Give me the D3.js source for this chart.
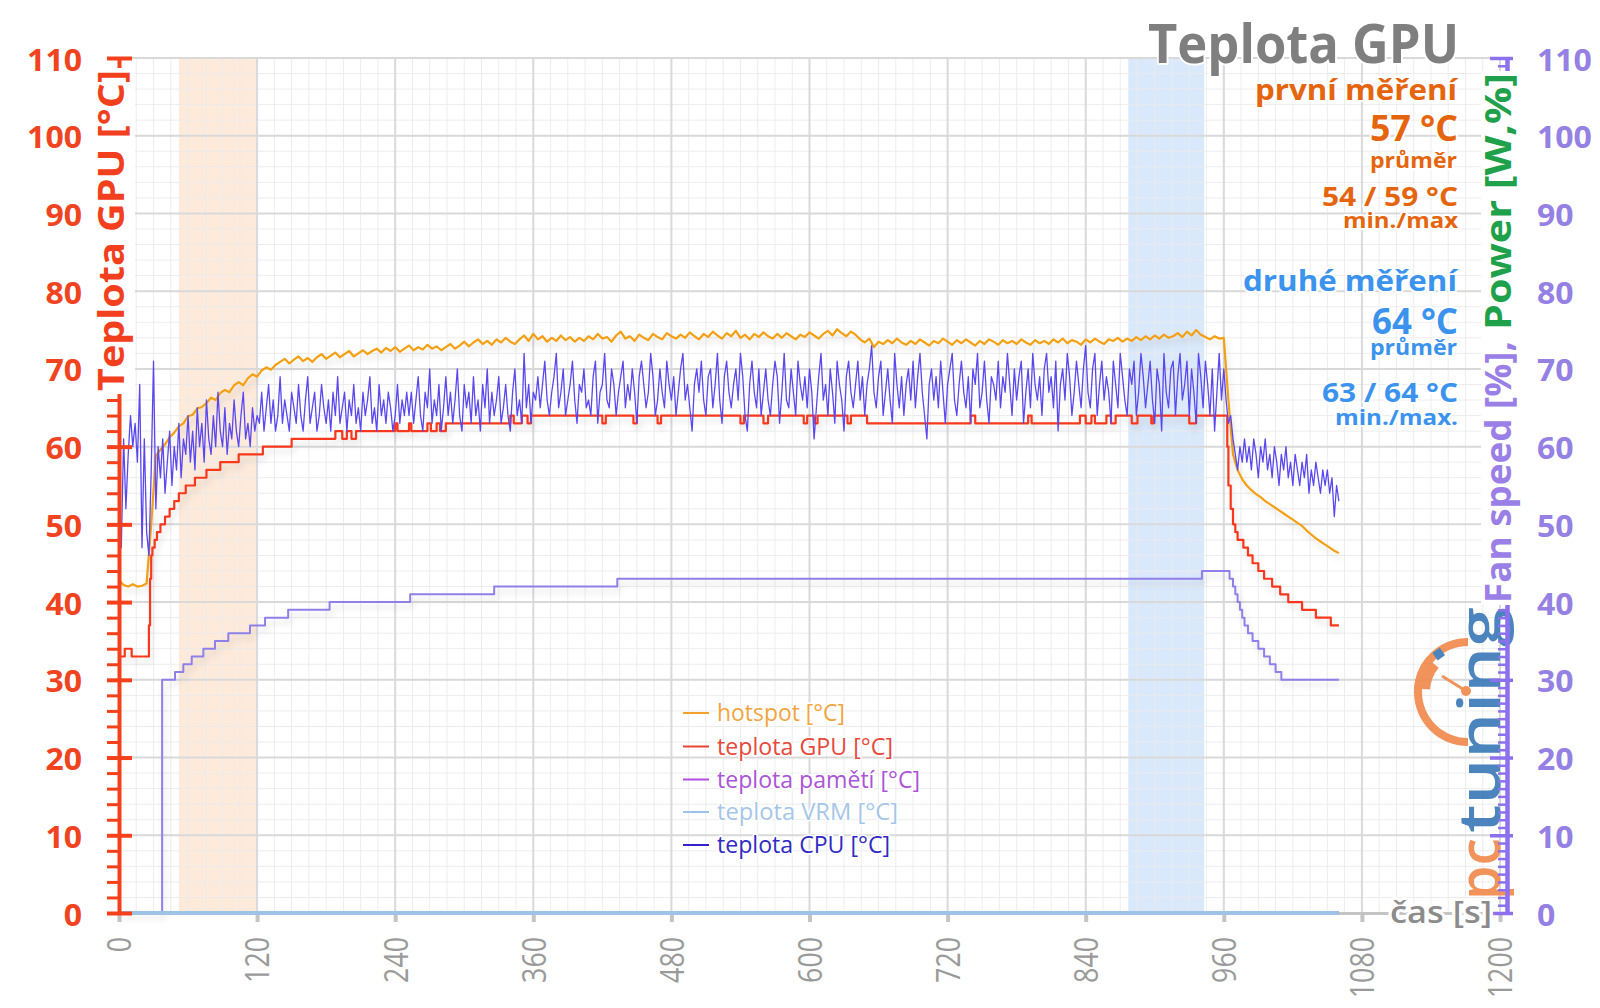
<!DOCTYPE html>
<html><head><meta charset="utf-8">
<script src="https://cdn.jsdelivr.net/npm/d3@7"></script>
<style>
body{margin:0;background:#fff;}
svg{display:block;font-family:"Open Sans",sans-serif;}
</style></head><body>
<svg id="chart" width="1600" height="1008"></svg>
<script>
// ---------------- DATA ----------------
const xTickValues = [0,120,240,360,480,600,720,840,960,1080,1200];
const yTickValues = [0,10,20,30,40,50,60,70,80,90,100,110];
const firstBand = [52,120];    // první měření
const secondBand = [877,943];  // druhé měření

// hotspot [°C], sampled every 4 s
const hotStep = 4;
const hotspotA_start = 0;
const hotspotA = [42.8,42.2,42.0,42.3,42.0,42.1,42.4,50.0,58.8,59.6,60.3,61.2,61.8,62.6,63.0,63.9,64.1,64.9,65.1,65.6,66.3,66.0,66.9,67.3,67.0,67.9,68.3,67.9,68.8,69.3,69.0,
 69.8,70.2,69.9,70.5,70.9,71.3,70.7,71.2,71.6,71.0,71.4,70.9,71.5,71.9,71.3,71.7,72.1,71.5,71.9,72.3,
 71.6,72.0,72.4,71.9,72.3,72.6,72.1,72.7,72.3,72.8,72.2,72.6,73.0,72.4,72.8,72.5,73.1,72.6,72.9,72.4,
 72.8,73.2,72.6,73.0,73.5,72.9,73.4,73.8,73.2,73.6,73.1,73.8,73.4,74.0,73.5,73.2,73.8,74.3,73.6,74.5,
 73.8,74.2,73.5,74.0,73.6,74.3,73.7,74.1,73.5,74.0];
const hotspotB_start = 404;
const hotspotB = [73.6,74.2,73.8,74.5,73.9,74.1,73.5,74.3,74.8,73.9,74.2,73.6,74.4,74.0,73.7,74.5,74.1,73.8,74.6,74.2,
 73.9,74.4,74.0,74.7,74.2,73.8,74.5,74.1,74.8,74.3,73.9,74.6,74.2,74.9,74.0,74.4,73.8,74.5,74.1,74.7,
 74.2,73.9,74.5,74.0,74.6,74.2,73.8,74.4,74.1,74.7,74.3,73.9,74.5,74.9,74.3,75.1,74.6,74.2,74.8,74.4,
 73.8,73.4,73.9,72.8,73.5,73.2,73.7,73.3,73.9,73.4,73.1,73.6,73.2,73.8,73.4,73.0,73.6,73.3,73.9,73.5,
 73.1,73.7,73.3,73.8,73.4,73.0,73.6,73.2,73.8,73.5,73.1,73.7,73.3,73.6,73.2,73.8,73.4,73.1,73.7,73.3,
 73.6,73.2,73.8,73.4,73.9,73.3,73.7,73.5,73.1,73.8,73.4,73.9,73.5,73.2,73.8,73.6,74.0,73.5,73.9,73.6,
 74.1,73.7,74.2,73.8,74.3,73.9,74.4,74.0,74.2,74.6,74.1,74.8,74.3,75.0,74.4,74.1,73.8,74.2,73.9,74.0];
const hotspotC_start = 964;
const hotspotC = [66.0,59.0,57.0,55.8,55.0,54.4,53.9,53.5,53.0,52.6,52.2,51.8,51.4,51.0,50.6,50.2,49.8,49.2,48.7,48.2,47.8,47.4,47.0,46.6,46.3];

// teplota GPU [°C], step changes [time s, value]
const gpuSteps = [[0,33],[5,34],[11,33],[26,37],[27,43],[28,46],[29,47],[31,48],[33,49],[36,50],[40,51],[44,52],[48,53],[52,54],[58,55],[66,56],[76,57],[88,58],[104,59],[125,60],[150,61],
 [188,62],[194,61],[198,62],[202,61],[206,62],[240,63],[242,62],[252,63],[254,62],[268,63],[271,62],[276,63],[279,62],[284,63],[340,64],[343,63],[350,64],[355,63],[358,64],
 [420,63],[423,64],[447,63],[450,64],[468,63],[471,64],[540,63],[543,64],[560,63],[564,64],[595,63],[598,64],[604,63],[607,64],[633,63],[636,64],[650,63],
 [740,64],[744,63],[790,64],[793,63],[835,64],[840,63],[845,64],[848,63],[858,64],[862,63],[866,64],[880,63],[885,64],[897,63],[899,64],[930,63],[936,64],
 [963,60],[964,55],[966,52],[968,50],[970,49],[972,48],[977,47],[981,46],[985,45],[990,44],[995,43],[1002,42],[1009,41],[1016,40],[1028,39],[1040,38],[1053,37],[1060,37]];

// teplota pamětí / VRM [°C] (flat at zero)
const memSteps = [[0,0],[1060,0]];
const vrmSteps = [[0,0],[1060,0]];

// teplota CPU [°C], sampled every 2 s
const cpuStep = 2;
const cpuA_start = 0;
const cpuA = [56,47,61,52,59,64,60,63,58,68,47,61,49,46,57,71,
 52,60,56,61,54,58,62,55,60,57,63,56,61,59,64,
 58,62,57,65,60,63,58,66,61,59,64,60,67,62,60,65,59,63,61,66,62,60,64,67,61,63,60,65,62,64,
 63,67,62,65,68,63,66,62,64,69,63,66,64,62,67,65,63,68,64,62,66,69,63,65,67,62,64,68,65,63,
 66,62,67,64,69,63,65,67,62,66,64,68,63,65,62,67,64,66,69,63,65,62,68,64,66,63,67,65,62,64,68,63,66,64,67,
 64,67,63,66,69,64,62,67,65,70,63,66,64,68,62,65,69,64,67,63,66,70,64,62,68,65,67,63,69,64,
 66,62,68,65,70,63,67,64,66,69,63,65,68,64,62,67,70,64,66,63,72,65,68,63,67];
const cpuB_start = 362;
const cpuB = [66,69,65,68,71,66,64,67,69,72,65,67,70,64,66,68,71,66,63,68,
 67,70,65,66,64,69,71,63,67,68,72,66,65,70,68,64,67,69,71,65,
 68,66,70,67,63,69,71,68,65,67,72,69,64,66,70,67,65,71,68,66,
 69,64,67,70,72,66,68,65,62,68,70,67,71,66,64,69,70,65,68,72,
 66,63,69,71,67,65,68,70,66,72,69,64,62,68,71,67,65,70,64,67,
 70,66,64,68,71,69,63,67,72,66,65,70,67,64,71,68,66,69,65,70,
 67,61,65,69,72,66,68,64,70,67,63,71,68,66,62,69,71,67,65,68,
 71,66,69,64,68,70,73,67,65,69,71,64,67,70,66,63,72,68,65,69,
 64,68,70,66,71,65,69,72,67,64,61,68,70,66,69,65,71,67,63,68,
 70,72,66,64,68,71,67,65,69,63,70,68,72,65,67,71,66,63,69,68,
 66,71,65,69,67,72,68,64,70,66,69,71,63,67,70,65,72,68,66,69,
 64,70,72,67,69,65,71,62,68,70,66,72,69,64,67,71,68,65,70,73,
 67,65,70,72,64,68,71,66,69,67,63,71,68,65,72,69,66,64,70,68,
 71,64,67,72,69,65,68,71,66,63,70,68,62,72,67,65,70,71,64,69,
 72,66,68,71,64,70,67,63,72,69,65,71,68,64,70,62,67,72,66,70];
const cpuC_start = 962;
const cpuC = [66,63,64,61,59,57,60,58,61,58,60,57,61,59,56,60,58,61,57,59,56,60,58,55,59,57,60,56,58,55,59,57,55,58,56,59,54,57,55,58,56,54,57,55,57,54,56,51,55,53];

// Fan speed [%] (secondary axis), step changes [time s, value]
const fanSteps = [[0,0],[37.5,30],[48.7,31],[55.9,32],[63.2,33],[73.3,34],[83.4,35],[95,36],[113.8,37],[126.9,38],[147,39],[183,40],[253,41],[326,42],[433,43],[941,44],[965,43],[968,42],[970,41],[972,40],[974,39],[976,38],[978,37],[981,36],[985,35],[990,34],[995,33],[1000,32],[1005,31],[1010,30],[1060,30]];

const legendNames = ["hotspot [°C]","teplota GPU [°C]","teplota pamětí [°C]","teplota VRM [°C]","teplota CPU [°C]"];
const legendLineColors = ["#f3a12a","#e8472f","#b24fe0","#9dc3e6","#3422cc"];
const legendTextColors = ["#f1a540","#e64a3c","#ab55d8","#a5c6e8","#2f2bc2"];

// ---------------- CHART ----------------
const svg = d3.select("#chart");
const x = d3.scaleLinear().domain([0,1200]).range([119,1500]);
const y = d3.scaleLinear().domain([0,110]).range([913,58]);
const y2 = d3.scaleLinear().domain([0,110]).range([913,58]);
const fmt = d3.format("d");

const defs = svg.append("defs");
const f = defs.append("filter").attr("id","sh").attr("x","-5%").attr("y","-10%").attr("width","115%").attr("height","130%");
f.append("feDropShadow").attr("dx",2).attr("dy",5).attr("stdDeviation",3).attr("flood-color","#000").attr("flood-opacity",0.13);

// bands
[[firstBand,"#fdeadb"],[secondBand,"#dae8fb"]].forEach(([b,c])=>{
  svg.append("rect").attr("x",x(b[0])).attr("y",y(110)).attr("width",x(b[1])-x(b[0])).attr("height",y(0)-y(110)).attr("fill",c);
});

// grid
const grid = svg.append("g");
grid.selectAll(".vm").data(d3.range(0,1201,15)).join("line")
  .attr("x1",d=>x(d)).attr("x2",d=>x(d)).attr("y1",y(110)).attr("y2",y(0))
  .attr("stroke","#ebebeb").attr("stroke-width",1).attr("opacity",0.9);
grid.selectAll(".hm").data(d3.range(0,111,2)).join("line")
  .attr("x1",x(0)).attr("x2",x(1200)).attr("y1",d=>y(d)).attr("y2",d=>y(d))
  .attr("stroke","#ebebeb").attr("stroke-width",1).attr("opacity",0.9);
grid.selectAll(".vM").data(xTickValues).join("line")
  .attr("x1",d=>x(d)).attr("x2",d=>x(d)).attr("y1",y(110)).attr("y2",y(0))
  .attr("stroke","#d9d9de").attr("stroke-width",2);
grid.selectAll(".hM").data(yTickValues).join("line")
  .attr("x1",x(0)).attr("x2",x(1200)).attr("y1",d=>y(d)).attr("y2",d=>y(d))
  .attr("stroke","#d9d9d9").attr("stroke-width",2);

// x axis
const gx = svg.append("g").attr("transform",`translate(0,${y(0)})`)
  .call(d3.axisBottom(x).tickValues(xTickValues).tickFormat(fmt).tickSize(9).tickSizeOuter(0));
gx.select(".domain").attr("stroke","#c4c4c4").attr("stroke-width",3);
gx.selectAll(".tick line").attr("stroke","#c4c4c4").attr("stroke-width",4);
gx.selectAll(".tick text")
  .attr("transform","rotate(-90)").attr("x",-24).attr("y",0).attr("dy","0.36em")
  .attr("text-anchor","end").attr("fill","#9a9a9a").attr("font-size",33)
  .attr("font-family","Open Sans").attr("font-weight",400)
  .attr("textLength",d=>fmt(d).length*15.3).attr("lengthAdjust","spacingAndGlyphs");

// series helpers
const lineLin = d3.line().x(d=>x(d[0])).y(d=>y(d[1]));
const lineStep = d3.line().x(d=>x(d[0])).y(d=>y(d[1])).curve(d3.curveStepAfter);
const lineStep2 = d3.line().x(d=>x(d[0])).y(d=>y2(d[1])).curve(d3.curveStepAfter);
const sampled = (arr,start,step)=>arr.map((v,i)=>[start+i*step,v]);

const hotspot = [...sampled(hotspotA,hotspotA_start,hotStep),...sampled(hotspotB,hotspotB_start,hotStep),...sampled(hotspotC,hotspotC_start,hotStep)];
const cpu = [...sampled(cpuA,cpuA_start,cpuStep),...sampled(cpuB,cpuB_start,cpuStep),...sampled(cpuC,cpuC_start,cpuStep)];

const series = svg.append("g").attr("fill","none").attr("stroke-linejoin","round");
series.append("path").attr("d",lineStep2(fanSteps)).attr("stroke","#8e80e8").attr("stroke-width",2).attr("filter","url(#sh)");
series.append("path").attr("d",lineLin(hotspot)).attr("stroke","#f3a014").attr("stroke-width",2.2).attr("filter","url(#sh)");
series.append("path").attr("d",lineStep(gpuSteps)).attr("stroke","#f8381c").attr("stroke-width",2.2).attr("filter","url(#sh)");
series.append("path").attr("d",lineStep(memSteps)).attr("stroke","#c050e0").attr("stroke-width",4);
series.append("path").attr("d",lineStep(vrmSteps)).attr("stroke","#9dc3e6").attr("stroke-width",4);
series.append("path").attr("d",lineLin(cpu)).attr("stroke","#5a48ee").attr("stroke-width",1.3);

// logo (pctuning watermark)
const logo = svg.append("g").attr("opacity",0.92);
const lc = [1468,692];
logo.append("path").attr("transform",`translate(${lc})`)
  .attr("d",d3.arc().innerRadius(46).outerRadius(54).startAngle(Math.PI).endAngle(2*Math.PI)())
  .attr("fill","#f08a4e");
logo.append("path").attr("transform",`translate(${lc})`)
  .attr("d",d3.arc().innerRadius(38).outerRadius(54).startAngle(1.52*Math.PI).endAngle(1.72*Math.PI)())
  .attr("fill","#f08a4e");
logo.append("rect").attr("x",1434).attr("y",650).attr("width",9).attr("height",9).attr("fill","#3d7ab8").attr("transform","rotate(-35,1438,654)");
logo.append("line").attr("x1",1442).attr("y1",676).attr("x2",lc[0]-2).attr("y2",lc[1]-1).attr("stroke","#f08a4e").attr("stroke-width",3);
logo.append("circle").attr("cx",lc[0]-2).attr("cy",lc[1]-1).attr("r",5).attr("fill","#f08a4e");
logo.append("text").text("tuning").attr("transform","translate(1500,833) rotate(-90)")
  .attr("font-size",58).attr("font-weight",600).attr("fill","#3d7ab8")
  .attr("textLength",226).attr("lengthAdjust","spacingAndGlyphs");
logo.append("text").text("pc").attr("transform","translate(1500,900) rotate(-90)")
  .attr("font-size",58).attr("font-weight",600).attr("fill","#f08a4e")
  .attr("textLength",62).attr("lengthAdjust","spacingAndGlyphs");

// left axis
const red = "#f5401c";
const gl = svg.append("g").attr("transform",`translate(${x(0)},0)`);
gl.append("g").call(d3.axisLeft(y).tickValues(d3.range(0,111,2).filter(v=>v%10)).tickSize(12).tickSizeOuter(0).tickFormat(""))
  .call(g=>{g.select(".domain").remove();g.selectAll("line").attr("stroke",red).attr("stroke-width",3);});
gl.append("g").call(d3.axisRight(y).tickValues(yTickValues).tickSize(13).tickSizeOuter(0).tickFormat(""))
  .call(g=>{g.select(".domain").remove();g.selectAll("line").attr("stroke",red).attr("stroke-width",4);});
gl.append("g").call(d3.axisLeft(y).tickValues(yTickValues).tickFormat(fmt).tickSize(12).tickPadding(25).tickSizeOuter(0))
  .call(g=>{
    g.select(".domain").attr("stroke",red).attr("stroke-width",4);
    g.selectAll("line").attr("stroke",red).attr("stroke-width",4);
    g.selectAll("text").attr("fill","#f0431f").attr("font-size",30).attr("font-weight",700)
      .attr("font-family","Open Sans").attr("dy","0.4em")
      .attr("textLength",d=>fmt(d).length*18.3).attr("lengthAdjust","spacingAndGlyphs");
  });

// left axis title with white background
svg.append("rect").attr("x",95).attr("y",68).attr("width",40).attr("height",326).attr("fill","#fff");
svg.append("text").text("Teplota GPU [°C]").attr("transform","translate(124,391) rotate(-90)")
  .attr("font-size",35).attr("font-weight",700).attr("fill","#f23f1d")
  .attr("textLength",321).attr("lengthAdjust","spacingAndGlyphs");

// right axis
const purple = "#8c70ee";
const gr = svg.append("g").attr("transform","translate(1507,0)");
gr.append("g").call(d3.axisLeft(y2).tickValues(d3.range(0,111,1).filter(v=>v%10)).tickSize(9).tickSizeOuter(0).tickFormat(""))
  .call(g=>{g.select(".domain").remove();g.selectAll("line").attr("stroke",purple).attr("stroke-width",2.5);});
gr.append("g").call(d3.axisLeft(y2).tickValues(yTickValues).tickSize(17).tickSizeOuter(0).tickFormat(""))
  .call(g=>{g.select(".domain").remove();g.selectAll("line").attr("stroke",purple).attr("stroke-width",3.5);});
gr.append("g").call(d3.axisRight(y2).tickValues(yTickValues).tickFormat(fmt).tickSize(6).tickPadding(24).tickSizeOuter(0))
  .call(g=>{
    g.select(".domain").attr("stroke",purple).attr("stroke-width",4.5);
    g.selectAll("line").attr("stroke",purple).attr("stroke-width",3.5);
    g.selectAll("text").attr("fill","#9580e4").attr("font-size",30).attr("font-weight",700)
      .attr("font-family","Open Sans").attr("dy","0.4em").attr("text-anchor","start")
      .attr("textLength",d=>fmt(d).length*18.3).attr("lengthAdjust","spacingAndGlyphs");
  });

// right axis title with white background
svg.append("rect").attr("x",1481).attr("y",71).attr("width",36).attr("height",534).attr("fill","#fff");
svg.append("text").text("Fan speed [%],").attr("transform","translate(1511,603) rotate(-90)")
  .attr("font-size",35).attr("font-weight",700).attr("fill","#9a7fe6")
  .attr("textLength",262).attr("lengthAdjust","spacingAndGlyphs");
svg.append("text").text("Power [W,%]").attr("transform","translate(1511,330) rotate(-90)")
  .attr("font-size",35).attr("font-weight",700).attr("fill","#1fa14c")
  .attr("textLength",257).attr("lengthAdjust","spacingAndGlyphs");

// x axis title
svg.append("text").text("čas [s]").attr("x",1390).attr("y",923)
  .attr("font-size",31).attr("font-weight",600).attr("fill","#8c8c8c")
  .attr("stroke","#fff").attr("stroke-width",6).attr("paint-order","stroke").attr("stroke-linejoin","round")
  .attr("textLength",102).attr("lengthAdjust","spacingAndGlyphs");

// legend
const lg = svg.append("g");
const rowY = [713,746.5,779.5,812,845];
legendNames.forEach((n,i)=>{
  lg.append("line").attr("x1",683).attr("x2",709).attr("y1",rowY[i]).attr("y2",rowY[i]).attr("stroke",legendLineColors[i]).attr("stroke-width",2);
});
const legendLens = [128,176,203,181,173];
legendNames.forEach((n,i)=>{
  lg.append("text").text(n).attr("x",717).attr("y",rowY[i]).attr("dy","0.36em")
    .attr("font-size",23).attr("fill",legendTextColors[i])
    .attr("stroke","#fff").attr("stroke-width",3).attr("paint-order","stroke")
    .attr("textLength",legendLens[i]).attr("lengthAdjust","spacingAndGlyphs");
});

// annotations (right side): each block is one multi-line text
const orange = "#e5650e", blue = "#3b93ee";
const blockFirst = [
  ["Teplota GPU",1459,63,53,"#7f7f7f",311],
  ["první měření",1457,100,29,orange,202],
  ["57 °C",1458,141,36,orange,88],
  ["průměr",1457,168,21,orange,87],
  ["54 / 59 °C",1458,206,27,orange,136],
  ["min./max",1458,228,22,orange,115]
];
const blockSecond = [
  ["druhé měření",1457,291,29,blue,214],
  ["64 °C",1458,334,36,blue,86],
  ["průměr",1457,355,21,blue,87],
  ["63 / 64 °C",1458,402,27,blue,136],
  ["min./max.",1458,425,22,blue,123]
];
const ng = svg.append("g");
[blockFirst,blockSecond].forEach(block=>{
  const t = ng.append("text").attr("font-weight",700)
    .attr("stroke","#fff").attr("stroke-width",4).attr("paint-order","stroke").attr("stroke-linejoin","round");
  block.forEach(([s,r,b,sz,c,len])=>{
    t.append("tspan").text(s).attr("x",r-len).attr("y",b)
      .attr("font-size",sz).attr("fill",c)
      .attr("textLength",len).attr("lengthAdjust","spacingAndGlyphs");
  });
});
</script>
</body></html>
